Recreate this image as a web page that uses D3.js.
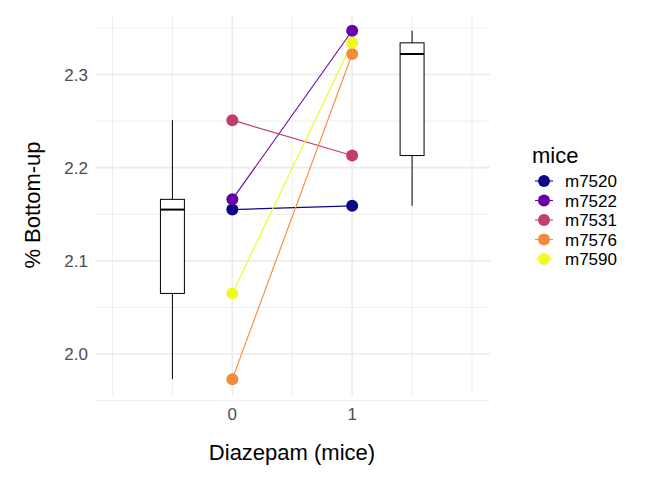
<!DOCTYPE html>
<html><head><meta charset="utf-8">
<script src="https://cdn.jsdelivr.net/npm/d3@7"></script>
<style>body{margin:0;background:#fff;font-family:Arial,"Liberation Sans",sans-serif;}</style>
</head><body><div id="chart"></div>
<script>
var mice = ["m7520", "m7522", "m7531", "m7576", "m7590"];
var colors = ["#0D0887", "#6A00A8", "#C33D6B", "#F58B3A", "#F0F921"];
var before = [2.155, 2.166, 2.251, 1.973, 2.065];
var after = [2.159, 2.347, 2.213, 2.322, 2.334];
var yTicks = [2.0, 2.1, 2.2, 2.3];
var xTicks = [0, 1];

var W = 672, H = 480;
var x = d3.scaleLinear().domain([-1, 2]).range([112.5, 472]);
var y = d3.scaleLinear().domain([2.0, 2.3]).range([354, 74.5]);
var svg = d3.select("#chart").append("svg").attr("width", W).attr("height", H);

// grid
[-1, -0.5, 0.5, 1.5, 2].forEach(function (v) {
  svg.append("line").attr("x1", x(v)).attr("x2", x(v)).attr("y1", 15).attr("y2", 395)
    .attr("stroke", "#ebebeb").attr("stroke-width", 0.8);
});
d3.range(1.95, 2.36, 0.1).forEach(function (v) {
  svg.append("line").attr("x1", 95).attr("x2", 490).attr("y1", y(v)).attr("y2", y(v))
    .attr("stroke", "#ebebeb").attr("stroke-width", 0.8);
});
xTicks.forEach(function (v) {
  svg.append("line").attr("x1", x(v)).attr("x2", x(v)).attr("y1", 15).attr("y2", 395)
    .attr("stroke", "#ebebeb").attr("stroke-width", 1.6);
});
yTicks.forEach(function (v) {
  svg.append("line").attr("x1", 95).attr("x2", 490).attr("y1", y(v)).attr("y2", y(v))
    .attr("stroke", "#ebebeb").attr("stroke-width", 1.6);
});

// boxplots
function box(vals, cx) {
  var s = vals.slice().sort(d3.ascending);
  var q1 = d3.quantile(s, 0.25), md = d3.quantile(s, 0.5), q3 = d3.quantile(s, 0.75);
  var hw = (x(0.1) - x(0));
  var g = svg.append("g").attr("stroke", "#000");
  g.append("line").attr("x1", x(cx)).attr("x2", x(cx)).attr("y1", y(s[0])).attr("y2", y(q1)).attr("stroke-width", 1);
  g.append("line").attr("x1", x(cx)).attr("x2", x(cx)).attr("y1", y(q3)).attr("y2", y(s[s.length - 1])).attr("stroke-width", 1);
  g.append("rect").attr("x", x(cx) - hw).attr("width", 2 * hw).attr("y", y(q3)).attr("height", y(q1) - y(q3))
    .attr("fill", "#fff").attr("stroke-width", 1);
  g.append("line").attr("x1", x(cx) - hw).attr("x2", x(cx) + hw).attr("y1", y(md)).attr("y2", y(md)).attr("stroke-width", 2);
}
box(before, -0.5);
box(after, 1.5);

// lines and points
mice.forEach(function (m, i) {
  svg.append("line").attr("x1", x(0)).attr("y1", y(before[i])).attr("x2", x(1)).attr("y2", y(after[i]))
    .attr("stroke", colors[i]).attr("stroke-width", 1.1);
});
mice.forEach(function (m, i) {
  svg.append("circle").attr("cx", x(0)).attr("cy", y(before[i])).attr("r", 6).attr("fill", colors[i]);
  svg.append("circle").attr("cx", x(1)).attr("cy", y(after[i])).attr("r", 6).attr("fill", colors[i]);
});

// axes labels
yTicks.forEach(function (v) {
  svg.append("text").attr("x", 88).attr("y", y(v) + 6).attr("text-anchor", "end")
    .attr("font-size", 17).attr("fill", "#4d4d4d").text(v.toFixed(1));
});
xTicks.forEach(function (v) {
  svg.append("text").attr("x", x(v)).attr("y", 420).attr("text-anchor", "middle")
    .attr("font-size", 17).attr("fill", "#4d4d4d").text(v);
});
svg.append("text").attr("x", 292).attr("y", 460).attr("text-anchor", "middle")
  .attr("font-size", 22).attr("fill", "#000").text("Diazepam (mice)");
svg.append("text").attr("transform", "translate(40,205) rotate(-90)").attr("text-anchor", "middle")
  .attr("font-size", 22).attr("fill", "#000").text("% Bottom-up");

// legend
svg.append("text").attr("x", 532).attr("y", 163).attr("font-size", 22).text("mice");
mice.forEach(function (m, i) {
  var ly = 181 + i * 19.5;
  svg.append("line").attr("x1", 535).attr("x2", 553).attr("y1", ly).attr("y2", ly).attr("stroke", colors[i]).attr("stroke-width", 1.1);
  svg.append("circle").attr("cx", 544).attr("cy", ly).attr("r", 6).attr("fill", colors[i]);
  svg.append("text").attr("x", 565).attr("y", ly + 6).attr("font-size", 17).text(m);
});
</script></body></html>
